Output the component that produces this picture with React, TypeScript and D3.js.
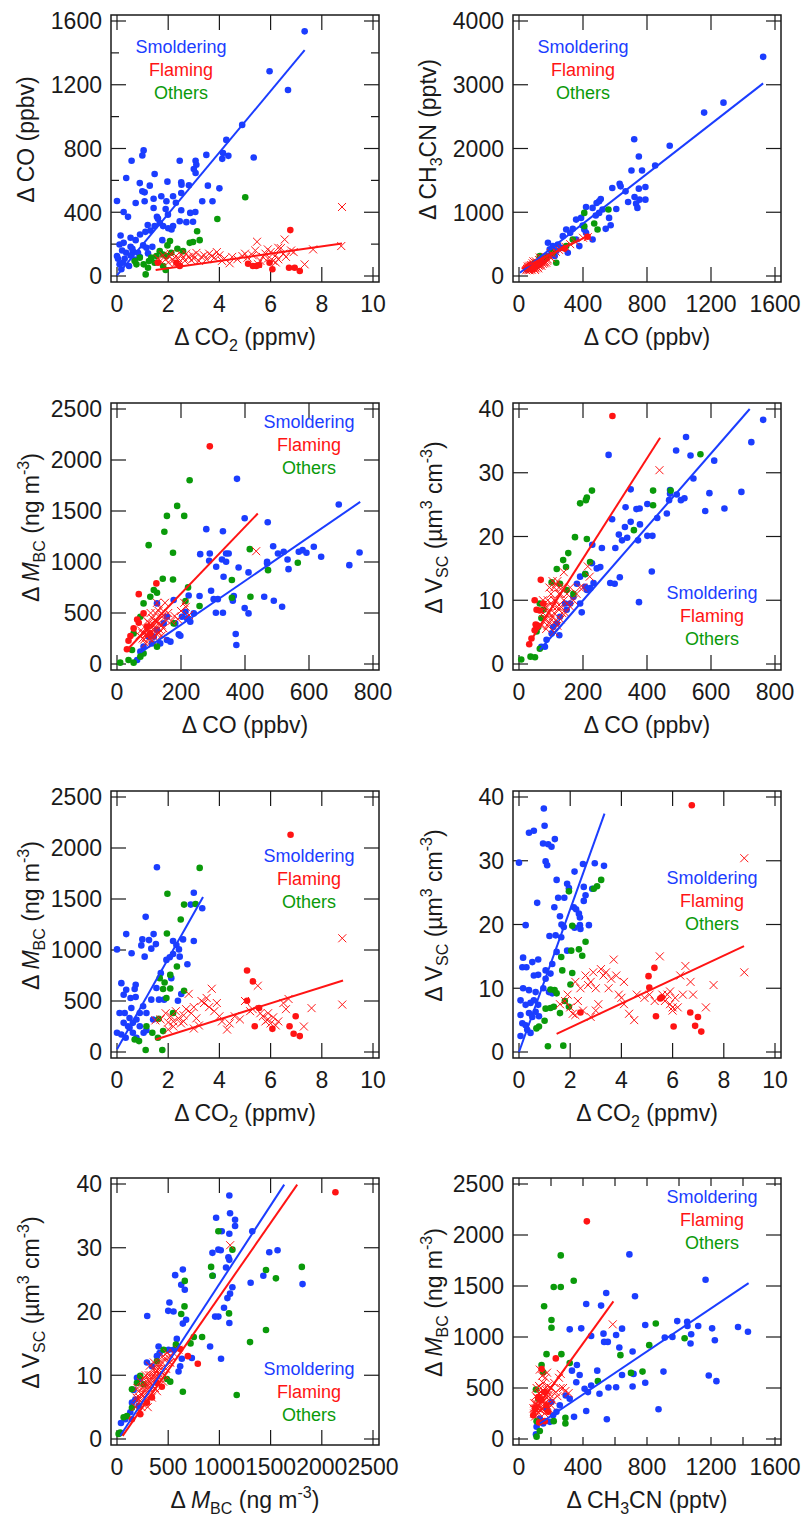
import { useMemo } from "react";
import * as d3 from "d3";

type Pt = [number, number];

const BLUE = "#1b3dff";
const RED = "#ff1414";
const GREEN = "#0a9a0a";
const INK = "#1a1a1a";
const FONT = "'Liberation Sans', Arial, sans-serif";

// ---- panel 1 : dCO2 vs dCO
const co2CoSmold: Pt[] = [[7.33,1535],[5.96,1285],[6.68,1167],[4.89,948],[4.27,854],[4.14,771],[4.11,735],[4.35,754],[5.34,744],[3.49,760],[3.07,723],[3.1,698],[3.0,671],[3.07,646],[2.45,723],[1.04,788],[0.99,756],[0.57,723],[0.36,615],[0.89,583],[0.99,531],[1.08,525],[1.28,567],[1.47,640],[1.97,592],[2.51,588],[2.52,573],[2.81,569],[3.55,567],[4.0,550],[2.19,500],[1.73,500],[1.93,469],[0.73,458],[1.08,469],[2.51,521],[1.43,485],[3.33,469],[3.73,469],[0,471],[0.26,402],[0.43,371],[1.43,427],[2.51,413],[2.86,396],[3.06,402],[1.99,385],[1.56,371],[1.67,333],[2.45,344],[2.71,338],[2.97,340],[2.19,313],[2.13,292],[1.8,313],[1.47,313],[1.31,285],[1.11,277],[0.14,254],[0.53,240],[0.73,225],[1.77,225],[0.1,198],[0.26,208],[0,125],[0.04,108],[0.53,183],[0.63,154],[1.02,192],[1.15,177],[1.38,183],[0.36,146],[0.3,108],[0.53,129],[0.69,104],[0.1,73],[0.23,83],[0.82,146],[0.89,121],[1.21,142],[0.47,63],[0.17,42],[1.6,360],[1.9,420],[2.3,460],[0.6,170],[0.2,160],[0.9,260],[1.2,320],[2.0,300]];
const co2CoOther: Pt[] = [[5.01,494],[3.92,358],[3.13,281],[3.23,225],[2.97,213],[2.84,208],[2.07,219],[1.97,192],[2.36,171],[2.58,156],[1.67,156],[1.8,135],[1.54,125],[1.93,125],[2.12,146],[0.89,115],[0.76,73],[0.69,94],[1.04,73],[1.25,94],[1.34,115],[1.12,10],[1.8,63],[1.9,38],[1.47,83],[1.21,52]];
const co2CoFlameDot: Pt[] = [[6.77,288],[5.12,77],[5.31,63],[5.44,63],[5.55,69],[6.07,42],[6.72,52],[6.94,52],[7.14,31],[5.96,83],[2.45,63],[2.32,83],[1.6,83]];
const co2CoFlameX: Pt[] = [[8.79,433],[8.76,188],[7.66,167],[7.33,73],[6.55,229],[5.47,215],[6.3,177],[5.89,167],[1.6,110],[1.7,95],[1.8,130],[1.9,105],[2.0,85],[2.05,120],[2.1,140],[2.2,100],[2.25,75],[2.3,125],[2.4,110],[2.45,90],[2.5,135],[2.6,115],[2.65,95],[2.7,140],[2.8,120],[2.9,100],[2.95,130],[3.0,110],[3.1,145],[3.2,95],[3.3,120],[3.4,130],[3.5,105],[3.6,140],[3.7,125],[3.8,115],[3.9,150],[4.0,130],[4.1,95],[4.2,110],[4.4,80],[4.5,120],[4.7,105],[4.9,125],[5.0,140],[5.1,115],[5.3,130],[5.4,160],[5.6,95],[5.7,120],[5.8,140],[5.9,110],[6.0,150],[6.1,95],[6.2,130],[6.3,105],[6.4,175],[6.5,140],[6.6,120],[6.8,160],[6.9,150],[6.2,85],[5.5,75]];
const co2CoSmoldFit: Pt[] = [[0,4],[7.33,1417]];
const co2CoFlameFit: Pt[] = [[1.51,38],[8.79,204]];

// ---- panel 2 : dCO vs dCH3CN
const coCh3cnSmold: Pt[] = [[1526,3438],[1157,2563],[1278,2719],[942,2042],[851,1734],[720,2146],[749,1875],[703,1656],[769,1656],[790,1396],[749,1370],[722,1240],[753,1198],[790,1198],[732,1135],[740,1068],[682,1161],[666,1328],[629,1448],[635,1406],[583,1380],[608,1052],[563,911],[573,797],[542,740],[501,1172],[511,1208],[485,1146],[460,1068],[419,1083],[522,1042],[388,911],[357,885],[408,729],[398,792],[460,573],[419,677],[295,729],[336,740],[320,677],[274,625],[243,495],[212,469],[181,521],[305,365],[264,443],[233,391],[202,339],[150,234],[171,313],[130,208],[109,156],[78,130],[47,104],[357,573],[377,469],[192,417],[223,313],[501,990],[480,948]];
const coCh3cnOther: Pt[] = [[559,1042],[408,990],[470,823],[491,729],[408,781],[336,573],[295,469],[212,365],[171,286],[130,313],[99,208],[68,156],[233,208]];
const coCh3cnFlameDot: Pt[] = [[60,150],[80,130],[100,170],[285,430],[429,615],[120,210],[70,180],[45,120],[90,110]];
const coCh3cnFlameX: Pt[] = [[50,110],[60,140],[70,120],[80,160],[90,130],[100,180],[110,150],[120,200],[130,170],[140,220],[150,190],[160,240],[170,210],[180,260],[60,100],[75,170],[85,200],[95,110],[105,230],[115,140],[125,250],[135,190],[145,280],[155,220],[165,300],[175,240],[190,310],[200,280],[210,340],[230,380],[250,410],[270,430],[290,460],[320,500],[350,540],[400,600],[430,610],[55,150],[65,90],[100,140],[120,120],[140,160],[90,230],[80,100],[110,200],[200,360],[130,290],[45,90],[55,125],[65,160],[75,135],[85,150],[95,170],[105,120],[115,190],[125,160],[135,230],[150,260],[160,200],[70,100],[100,95],[120,170]];
const coCh3cnSmoldFit: Pt[] = [[6,52],[1526,3021]];
const coCh3cnFlameFit: Pt[] = [[16,115],[429,625]];

// ---- panel 3 : dCO vs dMBC
const coMbcSmold: Pt[] = [[375,1815],[279,1322],[331,1302],[399,1429],[471,1390],[290,1084],[288,1012],[260,1077],[310,953],[328,1025],[341,1002],[341,1084],[349,1084],[333,855],[380,946],[411,898],[294,718],[302,636],[315,636],[309,503],[331,503],[399,548],[411,496],[362,620],[365,666],[371,294],[373,186],[488,1155],[469,1002],[469,986],[503,1084],[521,1100],[533,1025],[536,930],[568,1100],[580,1116],[592,1090],[615,1149],[638,1051],[693,1563],[726,969],[758,1093],[460,659],[490,620],[516,561],[258,666],[224,672],[177,627],[214,512],[203,463],[193,290],[198,277],[167,219],[156,235],[156,463],[182,398],[146,398],[125,333],[115,268],[135,202],[99,268],[109,202],[83,170],[73,121],[63,39],[219,447],[229,414],[240,496],[125,594]];
const coMbcOther: Pt[] = [[227,1802],[188,1550],[156,1452],[210,1452],[148,1296],[99,1165],[175,1090],[415,1126],[472,920],[565,992],[143,836],[175,829],[125,698],[222,751],[359,823],[359,649],[417,659],[258,568],[214,617],[115,725],[104,659],[83,594],[73,463],[52,300],[47,137],[10,13],[36,39],[52,13],[73,72],[83,104],[125,170],[177,398]];
const coMbcFlameDot: Pt[] = [[290,2134],[123,790],[68,685],[63,437],[68,405],[52,349],[42,274],[36,228],[31,144],[83,496],[94,366],[104,300]];
const coMbcFlameX: Pt[] = [[80,250],[85,300],[90,350],[95,280],[100,400],[105,320],[110,450],[115,380],[120,500],[125,420],[130,300],[135,550],[140,460],[145,350],[150,600],[90,200],[100,250],[110,230],[120,350],[130,400],[140,280],[160,500],[170,420],[180,470],[200,520],[215,560],[225,480],[95,420],[105,500],[115,270],[125,600],[135,380],[145,480],[155,430],[75,330],[70,280],[435,1106],[190,440],[210,600],[85,240],[95,330],[105,270],[115,330],[125,290],[135,330],[100,300],[110,360],[120,420],[130,520],[90,290],[80,300],[140,380]];
const coMbcSmoldFit: Pt[] = [[73,111],[760,1589]];
const coMbcFlameFit: Pt[] = [[31,137],[440,1475]];

// ---- panel 4 : dCO vs dVSC
const coVscSmold: Pt[] = [[763,38.3],[522,35.6],[610,31.9],[536,32.7],[491,33.5],[545,29.1],[280,32.8],[726,34.8],[695,27.0],[642,24.4],[582,24.0],[595,26.8],[472,27.3],[472,26.7],[506,25.7],[493,26.6],[517,26.0],[469,25.7],[462,23.6],[401,25.1],[432,22.9],[349,27.4],[367,24.3],[377,24.4],[333,24.6],[401,20.1],[417,20.1],[378,21.9],[372,19.4],[349,22.3],[331,21.5],[312,20.3],[322,19.4],[338,19.8],[301,18.2],[291,22.7],[415,14.5],[375,9.7],[285,12.7],[299,12.6],[315,13.6],[259,18.2],[229,18.7],[243,15.0],[228,15.8],[207,14.1],[254,15.2],[196,8.1],[191,9.5],[207,12.1],[170,10.5],[160,9.5],[149,8.5],[128,7.4],[126,4.5],[118,6.4],[107,5.8],[102,4.8],[86,3.8],[70,2.7],[81,2.7],[144,9.5],[181,12.6],[212,11.6],[223,11.9],[233,12.7],[191,13.7]];
const coVscOther: Pt[] = [[567,32.9],[419,27.2],[474,27.2],[419,24.9],[191,25.2],[209,25.7],[212,26.1],[228,27.2],[175,19.9],[212,19.6],[154,17.4],[138,16.3],[118,14.9],[147,15.2],[222,16.0],[359,21.0],[207,14.1],[128,12.6],[102,12.8],[65,9.5],[76,8.5],[70,7.2],[60,5.8],[55,5.1],[65,2.4],[36,1.15],[50,1.05],[7,0.7],[170,11.0],[149,11.6]];
const coVscFlameDot: Pt[] = [[292,38.9],[68,13.2],[49,10.0],[55,8.5],[65,8.4],[55,5.8],[49,5.3],[39,4.0],[32,3.1],[76,9.5],[52,6.2],[60,6.0]];
const coVscFlameX: Pt[] = [[70,6],[75,8],[80,7],[85,9],[90,10],[95,8],[100,11],[105,9],[110,12],[115,10],[120,13],[125,11],[130,9],[135,12],[140,10],[145,8],[150,11],[160,12],[170,10],[180,11],[190,12],[90,6],[100,7],[110,8],[120,6],[130,7],[95,12],[105,13],[115,12.5],[125,8.5],[140,14.4],[215,15.3],[221,13.7],[200,12],[85,5.5],[110,5],[439,30.4],[160,9],[75,10],[80,9],[90,8],[100,9.5],[110,10],[120,9],[130,11],[85,7],[95,6.5],[105,7.5],[115,6.8],[125,12],[135,8],[150,9.5]];
const coVscSmoldFit: Pt[] = [[65,2.2],[721,40]];
const coVscFlameFit: Pt[] = [[28,3.0],[441,35.5]];

// ---- panel 5 : dCO2 vs dMBC
const co2MbcSmold: Pt[] = [[1.56,1812],[3.0,1562],[3.33,1409],[2.88,1445],[3.0,1088],[1.12,1325],[0.36,1156],[0,1006],[0.57,968],[0.99,1104],[0.95,1045],[1.08,935],[1.25,1097],[1.43,1156],[1.34,1013],[1.52,1058],[2.19,1088],[2.32,1049],[2.19,961],[2.06,929],[1.93,903],[2.42,1006],[2.45,935],[2.58,1104],[2.12,724],[1.71,773],[2.75,860],[2.38,503],[2.51,568],[0.17,675],[0.73,659],[0.69,617],[0.36,610],[0.26,562],[0.53,529],[0.73,539],[1.02,448],[1.34,513],[1.54,627],[1.84,513],[1.64,513],[0.1,383],[0.3,383],[0.49,334],[0,188],[0.17,172],[0.34,140],[0.49,237],[0.62,286],[0.76,318],[0.89,253],[1.15,383],[1.41,318],[0.26,286],[0.43,253],[0.62,188],[0.76,140],[1.04,188],[1.15,214],[0.56,432],[0.89,383]];
const co2MbcOther: Pt[] = [[3.23,1805],[1.97,1552],[2.62,1445],[3.07,1451],[2.49,1299],[1.95,1162],[2.34,838],[2.08,756],[1.67,724],[1.86,682],[1.8,617],[2.08,623],[1.93,529],[2.62,601],[2.19,383],[1.63,325],[1.15,253],[1.8,205],[1.38,188],[1.6,140],[0.69,123],[0.86,107],[1.12,19],[1.77,19]];
const co2MbcFlameDot: Pt[] = [[6.78,2130],[5.08,799],[5.31,692],[5.08,503],[5.55,432],[5.38,253],[6.07,227],[6.98,351],[6.74,253],[6.9,179],[7.14,156]];
const co2MbcFlameX: Pt[] = [[1.5,310],[1.7,320],[1.9,380],[2.0,290],[2.1,350],[2.2,300],[2.3,400],[2.4,330],[2.5,280],[2.6,360],[2.7,420],[2.8,570],[2.9,380],[3.0,440],[3.1,330],[3.2,260],[3.3,500],[3.4,480],[3.5,530],[3.6,440],[3.7,620],[3.8,400],[3.9,480],[4.0,350],[4.1,300],[4.3,220],[4.4,280],[4.6,350],[4.8,320],[5.0,500],[5.2,400],[5.3,420],[5.5,650],[5.6,380],[5.7,350],[5.8,300],[5.9,320],[6.0,280],[6.2,260],[6.3,300],[6.5,480],[6.6,420],[6.7,520],[7.3,250],[7.6,430],[8.8,1115],[8.8,465],[2.6,300],[3.0,230],[2.2,250],[2.0,220],[6.1,340],[5.9,380]];
const co2MbcSmoldFit: Pt[] = [[0,26],[3.36,1519]];
const co2MbcFlameFit: Pt[] = [[1.51,123],[8.83,701]];

// ---- panel 6 : dCO2 vs dVSC
const co2VscSmold: Pt[] = [[0.97,38.2],[1.0,35.5],[0.39,34.4],[0.58,34.7],[0.94,32.7],[1.14,32.6],[1.27,32.2],[1.4,33.4],[1.04,29.9],[1.1,29.3],[0,29.7],[0.71,23.4],[0.26,19.9],[1.47,27.0],[1.38,22.7],[1.53,24.2],[1.77,24.2],[1.6,21.3],[1.66,20.0],[1.75,19.6],[1.88,26.4],[1.95,25.7],[2.17,28.3],[2.14,22.7],[2.23,22.4],[2.34,21.7],[2.17,19.5],[2.38,19.9],[2.73,19.9],[2.5,29.5],[2.96,29.6],[3.32,29.2],[2.86,25.6],[2.53,25.9],[2.6,24.6],[2.53,23.7],[2.38,21.1],[2.4,19.3],[1.43,18.3],[1.19,18.2],[1.65,18.0],[1.88,15.9],[1.47,15.7],[1.3,13.8],[0.16,14.8],[0.13,13.3],[0.29,13.3],[0.52,14.1],[0.75,14.5],[0.58,12.0],[0.75,12.1],[1.04,11.5],[0.16,10.0],[0.39,9.7],[0.65,9.4],[0.95,10.0],[1.17,9.4],[1.3,9.2],[0.06,8.1],[0.26,7.4],[0.45,7.7],[0.58,8.1],[0.75,7.4],[0.06,5.8],[0.13,4.5],[0.26,4.2],[0.39,6.1],[0.52,5.5],[0.65,6.3],[0.78,5.6],[0.06,2.5],[0.32,3.5],[0.45,3.0],[1.04,12.8],[1.23,12.3]];
const co2VscOther: Pt[] = [[3.21,27.0],[3.05,26.0],[2.92,25.6],[1.95,25.2],[2.08,19.8],[2.6,17.3],[2.04,15.9],[2.34,16.1],[2.47,15.1],[1.65,14.9],[1.69,12.8],[2.08,12.4],[2.01,10.6],[1.23,9.8],[1.39,9.7],[1.47,9.2],[1.04,6.8],[1.23,6.9],[1.36,7.1],[1.6,6.1],[1.95,7.1],[1.0,4.9],[0.78,4.0],[0.68,3.7],[1.13,0.9],[1.73,1.0],[1.79,8.0]];
const co2VscFlameDot: Pt[] = [[6.75,38.7],[5.29,13.2],[5.06,11.9],[5.09,10.1],[5.52,8.4],[5.58,8.6],[5.35,5.6],[6.04,4.0],[6.69,6.2],[6.99,5.5],[6.88,4.1],[7.12,3.2],[2.4,6.2]];
const co2VscFlameX: Pt[] = [[1.6,7.5],[1.8,8],[1.9,9],[2.0,7],[2.1,6],[2.2,11],[2.3,8],[2.4,10],[2.5,6.5],[2.6,12],[2.7,10.5],[2.8,11],[2.9,12.5],[3.0,10],[3.1,7.5],[3.2,13],[3.3,12],[3.4,12.5],[3.5,10],[3.6,11.5],[3.7,14.5],[3.8,12],[3.9,9],[4.0,8.5],[4.1,7.5],[4.3,6],[4.5,5],[4.6,9],[4.9,8.5],[5.1,9],[5.3,8],[5.5,15],[5.6,9],[5.7,8],[5.8,9],[5.9,7.5],[6.0,6.5],[6.1,8.5],[6.2,7],[6.3,12],[6.4,9],[6.5,13.5],[6.7,11],[6.8,9],[7.3,7],[7.6,10.5],[8.8,30.4],[8.8,12.5],[2.8,5.5],[3.0,6.5],[2.2,5.8],[5.9,9.5],[6.0,7],[4.1,11]];
const co2VscSmoldFit: Pt[] = [[0,0],[3.34,37.4]];
const co2VscFlameFit: Pt[] = [[1.47,2.85],[8.79,16.6]];

// ---- panel 7 : dMBC vs dVSC
const mbcVscSmold: Pt[] = [[1097,38.2],[968,34.7],[1104,35.4],[1153,34.4],[1153,33.4],[1023,32.6],[1097,32.2],[1321,32.6],[932,29.2],[990,29.7],[1013,29.6],[1088,28.5],[1097,28.1],[1065,26.9],[935,25.6],[1487,29.3],[1568,29.6],[1429,25.6],[1305,24.5],[1812,24.3],[1127,23.8],[1104,22.8],[1078,22.1],[1045,20.6],[990,19.2],[958,19.2],[1097,18.2],[909,14.5],[1016,12.6],[643,26.6],[568,25.7],[627,24.2],[662,23.4],[512,21.4],[500,20.1],[552,20.0],[643,18.1],[675,18.7],[295,19.3],[731,12.7],[633,12.6],[601,10.6],[617,11.4],[584,15.7],[552,14.0],[406,14.5],[416,13.5],[390,13.0],[195,9.6],[227,9.4],[162,7.7],[179,6.2],[146,5.7],[39,2.5],[81,3.1],[130,4.2],[211,5.2],[292,12.0],[341,11.4],[503,14.0]];
const mbcVscOther: Pt[] = [[990,32.6],[1127,29.7],[919,27.0],[932,25.6],[662,24.8],[627,19.6],[659,20.8],[831,16.0],[750,16.0],[718,15.0],[575,14.8],[455,14.0],[390,12.2],[1094,19.7],[1455,17.1],[1299,15.2],[1455,26.5],[1552,25.2],[1805,27.0],[1169,6.9],[643,7.4],[520,9.0],[487,9.4],[195,8.8],[146,7.8],[227,9.9],[97,3.6],[65,3.4],[32,1.0],[16,0.8],[146,4.9],[260,8.6]];
const mbcVscFlameDot: Pt[] = [[2133,38.7],[789,11.8],[692,13.0],[617,14.1],[146,3.1],[227,3.9],[438,8.2],[390,8.8],[292,5.7],[341,6.5]];
const mbcVscFlameX: Pt[] = [[180,5],[200,6],[220,6.5],[240,7],[260,7.5],[280,8],[300,8.5],[320,9],[340,9.5],[360,10],[380,10.5],[400,11],[420,11.5],[440,12],[460,12.5],[480,11],[500,12.8],[230,9],[250,5.5],[270,8.8],[290,6],[310,10],[330,7],[350,11],[370,8],[390,7.5],[410,9.5],[430,10.5],[450,9],[200,8],[220,4.5],[300,5],[320,11.5],[280,10],[260,9.5],[340,6.5],[550,13.5],[600,14],[1105,30.4],[360,12],[240,5],[470,10],[520,12],[190,6.5],[210,7.5],[230,6],[250,8],[270,7],[290,9],[310,8],[330,10],[350,9],[370,11],[390,10],[410,12],[430,11],[450,13],[490,13.5],[510,12],[530,13],[280,6.5],[320,7.5],[340,8.5],[380,9.5],[420,10]];
const mbcVscSmoldFit: Pt[] = [[32,0.5],[1633,39.9]];
const mbcVscFlameFit: Pt[] = [[55,0.5],[1760,39.9]];

// ---- panel 8 : dCH3CN vs dMBC
const ch3cnMbcSmold: Pt[] = [[690,1810],[1166,1561],[545,1431],[725,1399],[420,1324],[513,1308],[317,1075],[389,1085],[451,1010],[528,1033],[555,952],[532,952],[607,1020],[627,897],[644,1082],[789,1117],[911,994],[989,1156],[1051,1150],[1053,1108],[1072,936],[1076,1027],[1120,1108],[1207,1085],[1224,968],[1369,1098],[1431,1052],[1186,622],[1234,567],[959,1001],[903,661],[789,551],[710,858],[710,515],[716,638],[644,628],[607,508],[559,505],[489,670],[503,444],[362,725],[331,670],[379,628],[410,492],[358,557],[872,291],[549,194],[420,275],[344,217],[451,525],[431,460],[255,330],[234,266],[213,233],[193,168],[151,152],[110,120],[106,45],[172,298],[203,363],[292,427],[317,395],[130,201]];
const ch3cnMbcOther: Pt[] = [[261,1800],[342,1551],[217,1490],[261,1490],[203,1166],[203,1091],[157,1302],[172,832],[265,832],[855,1133],[814,920],[1035,988],[634,822],[700,648],[772,661],[493,567],[317,745],[141,725],[151,654],[106,486],[120,395],[110,175],[130,78],[110,23],[217,175],[290,152],[290,207]];
const ch3cnMbcFlameDot: Pt[] = [[424,2134],[230,790],[141,687],[120,411],[161,460],[172,330],[182,266],[89,233],[161,175],[126,162],[100,300],[140,380]];
const ch3cnMbcFlameX: Pt[] = [[95,250],[100,300],[105,350],[110,280],[115,400],[120,320],[125,450],[130,380],[135,500],[140,420],[145,300],[150,550],[155,460],[160,350],[165,600],[170,480],[175,400],[180,520],[185,300],[190,440],[200,500],[210,380],[220,550],[230,460],[240,420],[250,600],[260,500],[275,500],[290,470],[310,450],[261,638],[586,1124],[100,220],[120,260],[140,300],[160,250],[130,680],[145,620],[110,500],[175,650],[200,330],[95,350],[105,420],[115,300],[125,360],[135,280],[145,450],[155,380],[165,420],[175,330],[185,480],[195,400],[105,260],[125,520],[150,480],[90,300]];
const ch3cnMbcSmoldFit: Pt[] = [[130,152],[1435,1528]];
const ch3cnMbcFlameFit: Pt[] = [[83,249],[590,1350]];

// ---- axis titles
const tCO2 = (<><tspan>Δ</tspan><tspan dx={5}>CO</tspan><tspan dy={6} fontSize={16}>2</tspan><tspan dy={-6}> (ppmv)</tspan></>);
const tCO = (<><tspan>Δ</tspan><tspan dx={5}>CO (ppbv)</tspan></>);
const tCH3CN = (<><tspan>Δ</tspan><tspan dx={5}>CH</tspan><tspan dy={6} fontSize={16}>3</tspan><tspan dy={-6}>CN (pptv)</tspan></>);
const tMBC = (<><tspan>Δ</tspan><tspan dx={5} fontStyle="italic">M</tspan><tspan dy={6} fontSize={16}>BC</tspan><tspan dy={-6}> (ng m</tspan><tspan dy={-10} fontSize={16}>-3</tspan><tspan dy={10}>)</tspan></>);
const tVSC = (<><tspan>Δ</tspan><tspan dx={5}>V</tspan><tspan dy={6} fontSize={16}>SC</tspan><tspan dy={-6}> (µm</tspan><tspan dy={-10} fontSize={16}>3</tspan><tspan dy={10}> cm</tspan><tspan dy={-10} fontSize={16}>-3</tspan><tspan dy={10}>)</tspan></>);

const W = 268;
const H = 267;
const PAD = 6;
const MAJOR = 15;
const MINOR = 8;
const TICK_FONT = 23;
const TITLE_FONT = 23;

type PanelCfg = {
  left: number; top: number;
  xDomain: [number, number]; xStep: number; xLabelStep: number; xTickLen?: number;
  yDomain: [number, number]; yStep: number; yLabelStep: number;
  xTitle: any; yTitle: any; yTitleOff: number;
  legendX: number; legendY: number;
  smold: Pt[]; other: Pt[]; flameDot: Pt[]; flameX: Pt[];
  smoldFit: Pt[]; flameFit: Pt[];
};

const panels: PanelCfg[] = [
  { left: 111, top: 15, xDomain: [0, 10], xStep: 2, xLabelStep: 2, yDomain: [0, 1600], yStep: 200, yLabelStep: 400,
    xTitle: tCO2, yTitle: tCO, yTitleOff: 85, legendX: 70, legendY: 32,
    smold: co2CoSmold, other: co2CoOther, flameDot: co2CoFlameDot, flameX: co2CoFlameX, smoldFit: co2CoSmoldFit, flameFit: co2CoFlameFit },
  { left: 513, top: 15, xDomain: [0, 1600], xStep: 400, xLabelStep: 400, yDomain: [0, 4000], yStep: 1000, yLabelStep: 1000,
    xTitle: tCO, yTitle: tCH3CN, yTitleOff: 85, legendX: 70, legendY: 32,
    smold: coCh3cnSmold, other: coCh3cnOther, flameDot: coCh3cnFlameDot, flameX: coCh3cnFlameX, smoldFit: coCh3cnSmoldFit, flameFit: coCh3cnFlameFit },
  { left: 111, top: 403, xDomain: [0, 800], xStep: 200, xLabelStep: 200, yDomain: [0, 2500], yStep: 500, yLabelStep: 500,
    xTitle: tCO, yTitle: tMBC, yTitleOff: 80, legendX: 198, legendY: 19,
    smold: coMbcSmold, other: coMbcOther, flameDot: coMbcFlameDot, flameX: coMbcFlameX, smoldFit: coMbcSmoldFit, flameFit: coMbcFlameFit },
  { left: 513, top: 403, xDomain: [0, 800], xStep: 200, xLabelStep: 200, yDomain: [0, 40], yStep: 10, yLabelStep: 10,
    xTitle: tCO, yTitle: tVSC, yTitleOff: 79, legendX: 199, legendY: 190,
    smold: coVscSmold, other: coVscOther, flameDot: coVscFlameDot, flameX: coVscFlameX, smoldFit: coVscSmoldFit, flameFit: coVscFlameFit },
  { left: 111, top: 791, xDomain: [0, 10], xStep: 2, xLabelStep: 2, yDomain: [0, 2500], yStep: 500, yLabelStep: 500,
    xTitle: tCO2, yTitle: tMBC, yTitleOff: 80, legendX: 198, legendY: 65,
    smold: co2MbcSmold, other: co2MbcOther, flameDot: co2MbcFlameDot, flameX: co2MbcFlameX, smoldFit: co2MbcSmoldFit, flameFit: co2MbcFlameFit },
  { left: 513, top: 791, xDomain: [0, 10], xStep: 2, xLabelStep: 2, yDomain: [0, 40], yStep: 10, yLabelStep: 10,
    xTitle: tCO2, yTitle: tVSC, yTitleOff: 79, legendX: 199, legendY: 87,
    smold: co2VscSmold, other: co2VscOther, flameDot: co2VscFlameDot, flameX: co2VscFlameX, smoldFit: co2VscSmoldFit, flameFit: co2VscFlameFit },
  { left: 111, top: 1178, xDomain: [0, 2500], xStep: 500, xLabelStep: 500, yDomain: [0, 40], yStep: 10, yLabelStep: 10,
    xTitle: tMBC, yTitle: tVSC, yTitleOff: 80, legendX: 198, legendY: 191,
    smold: mbcVscSmold, other: mbcVscOther, flameDot: mbcVscFlameDot, flameX: mbcVscFlameX, smoldFit: mbcVscSmoldFit, flameFit: mbcVscFlameFit },
  { left: 513, top: 1178, xDomain: [0, 1600], xStep: 200, xLabelStep: 400, xTickLen: MINOR, yDomain: [0, 2500], yStep: 500, yLabelStep: 500,
    xTitle: tCH3CN, yTitle: tMBC, yTitleOff: 79, legendX: 199, legendY: 19,
    smold: ch3cnMbcSmold, other: ch3cnMbcOther, flameDot: ch3cnMbcFlameDot, flameX: ch3cnMbcFlameX, smoldFit: ch3cnMbcSmoldFit, flameFit: ch3cnMbcFlameFit },
];

const isMult = (v: number, step: number) => Math.abs(v / step - Math.round(v / step)) < 1e-6;

function Panel({ p }: { p: PanelCfg }) {
  const { left, top } = p;
  const x = d3.scaleLinear().domain(p.xDomain).range([left + PAD, left + W - PAD]);
  const y = d3.scaleLinear().domain(p.yDomain).range([top + H - PAD, top + PAD]);
  const xTicks = d3.range(p.xDomain[0], p.xDomain[1] + p.xStep / 2, p.xStep);
  const yTicks = d3.range(p.yDomain[0], p.yDomain[1] + p.yStep / 2, p.yStep);
  const line = d3.line<Pt>().x((d) => x(d[0])).y((d) => y(d[1]));
  const bottom = top + H;
  const right = left + W;
  const xLen = (t: number) => p.xTickLen ?? (isMult(t, p.xLabelStep) ? MAJOR : MINOR);
  const yLen = (t: number) => (isMult(t, p.yLabelStep) ? MAJOR : MINOR);

  return (
    <g>
      {/* ticks on all four sides, pointing inward */}
      {xTicks.map((t) => (
        <g key={"xt" + t} stroke={INK} strokeWidth={1.2}>
          <line x1={x(t)} x2={x(t)} y1={bottom} y2={bottom - xLen(t)} />
          <line x1={x(t)} x2={x(t)} y1={top} y2={top + xLen(t)} />
        </g>
      ))}
      {yTicks.map((t) => (
        <g key={"yt" + t} stroke={INK} strokeWidth={1.2}>
          <line x1={left} x2={left + yLen(t)} y1={y(t)} y2={y(t)} />
          <line x1={right} x2={right - yLen(t)} y1={y(t)} y2={y(t)} />
        </g>
      ))}
      {xTicks.filter((t) => isMult(t, p.xLabelStep)).map((t) => (
        <text key={"xl" + t} x={x(t)} y={bottom + 30} textAnchor="middle" fontSize={TICK_FONT} fill={INK}>{t}</text>
      ))}
      {yTicks.filter((t) => isMult(t, p.yLabelStep)).map((t) => (
        <text key={"yl" + t} x={left - 9} y={y(t)} dy="0.36em" textAnchor="end" fontSize={TICK_FONT} fill={INK}>{t}</text>
      ))}
      <rect x={left} y={top} width={W} height={H} fill="none" stroke={INK} strokeWidth={1.5} />

      {p.smold.map((d, i) => <circle key={"b" + i} cx={x(d[0])} cy={y(d[1])} r={3.3} fill={BLUE} />)}
      {p.other.map((d, i) => <circle key={"g" + i} cx={x(d[0])} cy={y(d[1])} r={3.3} fill={GREEN} />)}
      {p.flameDot.map((d, i) => <circle key={"r" + i} cx={x(d[0])} cy={y(d[1])} r={3.3} fill={RED} />)}
      {p.flameX.map((d, i) => (
        <path key={"x" + i} transform={`translate(${x(d[0])},${y(d[1])})`} d="M-4,-4L4,4M-4,4L4,-4" stroke={RED} strokeWidth={1} fill="none" />
      ))}
      <path d={line(p.smoldFit) || ""} stroke={BLUE} strokeWidth={2} fill="none" />
      <path d={line(p.flameFit) || ""} stroke={RED} strokeWidth={2} fill="none" />

      <g fontSize={18} textAnchor="middle">
        <text x={left + p.legendX} y={top + p.legendY} dy="0.36em" fill={BLUE}>Smoldering</text>
        <text x={left + p.legendX} y={top + p.legendY + 23} dy="0.36em" fill={RED}>Flaming</text>
        <text x={left + p.legendX} y={top + p.legendY + 46} dy="0.36em" fill={GREEN}>Others</text>
      </g>

      <text x={left + W / 2} y={bottom + 63} textAnchor="middle" fontSize={TITLE_FONT} fill={INK}>{p.xTitle}</text>
      <text transform={`translate(${left - p.yTitleOff},${top + H / 2 - 9}) rotate(-90)`} dy="0.36em" textAnchor="middle" fontSize={TITLE_FONT} fill={INK}>{p.yTitle}</text>
    </g>
  );
}

export default function App() {
  const list = useMemo(() => panels, []);
  return (
    <svg width={803} height={1516} style={{ position: "absolute", left: 0, top: 0, background: "#fff" }} fontFamily={FONT}>
      {list.map((p, i) => <Panel key={i} p={p} />)}
    </svg>
  );
}
